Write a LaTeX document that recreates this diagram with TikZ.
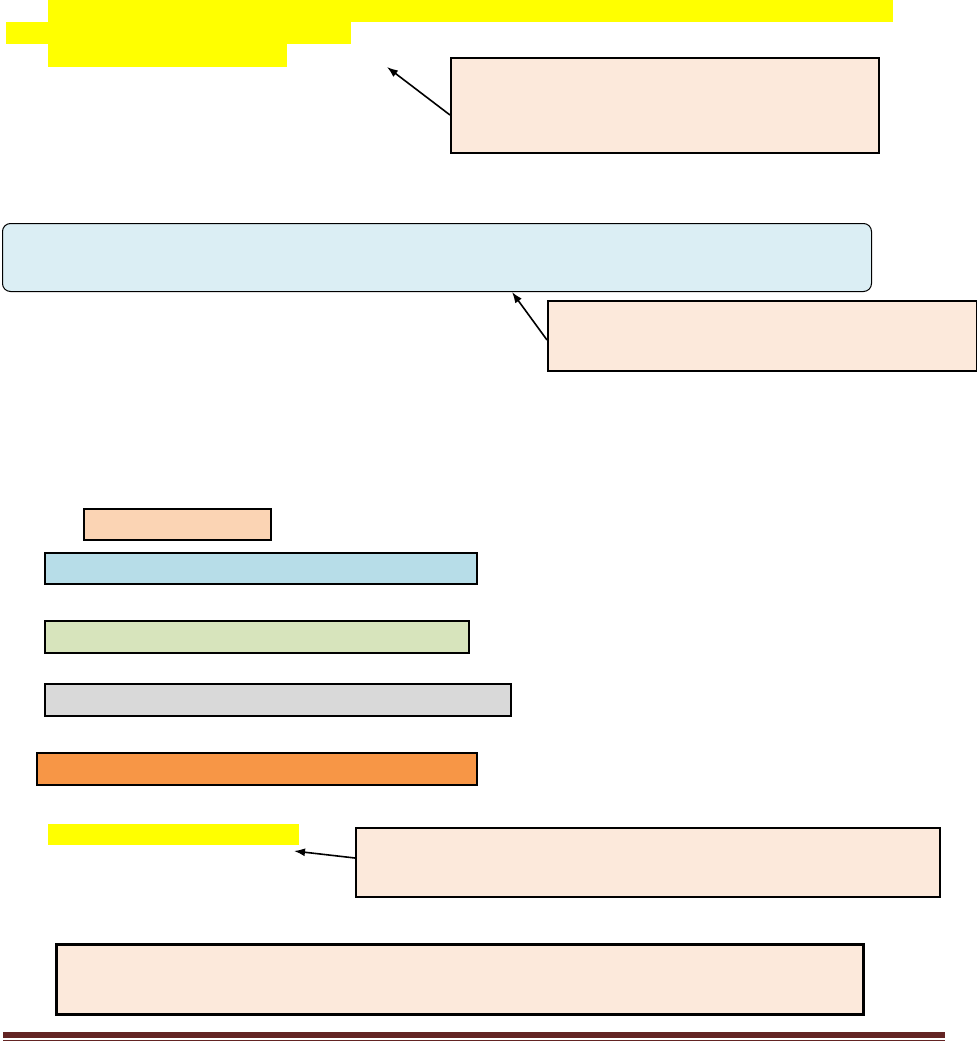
\documentclass[tikz,border=0pt]{standalone}
\usepackage{tikz}
\usetikzlibrary{arrows.meta, positioning}
\definecolor{hiyellow}{HTML}{FFFF00}
\definecolor{notefill}{HTML}{FCE9DB}
\definecolor{bandfill}{HTML}{DBEEF4}
\definecolor{peachfill}{HTML}{FBD4B4}
\definecolor{bluefill}{HTML}{B7DDE8}
\definecolor{greenfill}{HTML}{D7E4BC}
\definecolor{grayfill}{HTML}{D9D9D9}
\definecolor{orangefill}{HTML}{F79646}
\definecolor{rulered}{HTML}{632423}
\tikzset{
  hilite/.style={rectangle,fill=hiyellow,inner sep=0pt,anchor=north west},
  note/.style={rectangle,draw,fill=notefill,line width=1.5pt,inner sep=0pt,anchor=north west},
  band/.style={rectangle,draw,fill=bandfill,rounded corners=8pt,line width=1pt,inner sep=0pt,anchor=north west},
  bar/.style={rectangle,draw,line width=2pt,inner sep=0pt,anchor=north west},
  frame/.style={rectangle,draw,fill=notefill,line width=3pt,inner sep=0pt,anchor=north west},
  line/.style={-{Latex[length=11pt,width=8pt]},line width=1.6pt}
}
\begin{document}
\begin{tikzpicture}[x=1pt,y=-1pt]
\useasboundingbox (0,0) rectangle (977,1042);
% highlighted heading
\node[hilite, minimum width=845pt, minimum height=22pt] (h1) at (48,0) {};
\node[hilite, minimum width=345pt, minimum height=22pt] (h2) at (6,22) {};
\node[hilite, minimum width=239pt, minimum height=24pt] (h3) at (48,43) {};
\node[note, minimum width=428pt, minimum height=95pt] (n1) at (450,57) {};
\coordinate (t1) at (387,67);
\draw[line] (n1.west |- 0,115) -- (t1);
% rounded band
\node[band, minimum width=869pt, minimum height=68pt] (bd) at (2,223) {};
\node[note, minimum width=429pt, minimum height=70pt] (n2) at (547,300) {};
\draw[line] (n2.west |- 0,340) -- (bd.south -| 512,0);
% coloured bars
\node[bar, fill=peachfill, minimum width=187pt, minimum height=31pt] (b1) at (83,508) {};
\node[bar, fill=bluefill, minimum width=432pt, minimum height=31pt] (b2) at (44,552) {};
\node[bar, fill=greenfill, minimum width=424pt, minimum height=32pt] (b3) at (44,620) {};
\node[bar, fill=grayfill, minimum width=466pt, minimum height=32pt] (b4) at (44,683) {};
\node[bar, fill=orangefill, minimum width=440pt, minimum height=32pt] (b5) at (36,752) {};
% lower highlight and notes
\node[hilite, minimum width=251pt, minimum height=21pt] (h4) at (48,824) {};
\node[note, minimum width=584pt, minimum height=69pt] (n3) at (355,827) {};
\coordinate (t3) at (294,851);
\draw[line] (n3.west |- 0,858) -- (t3);
\node[frame, minimum width=807pt, minimum height=70pt] (fr) at (55,943) {};
% footer rule
\fill[rulered] (3,1032) rectangle (945,1038);
\draw[rulered, line width=1pt] (3,1040.5) -- (945,1040.5);
\end{tikzpicture}
\end{document}
